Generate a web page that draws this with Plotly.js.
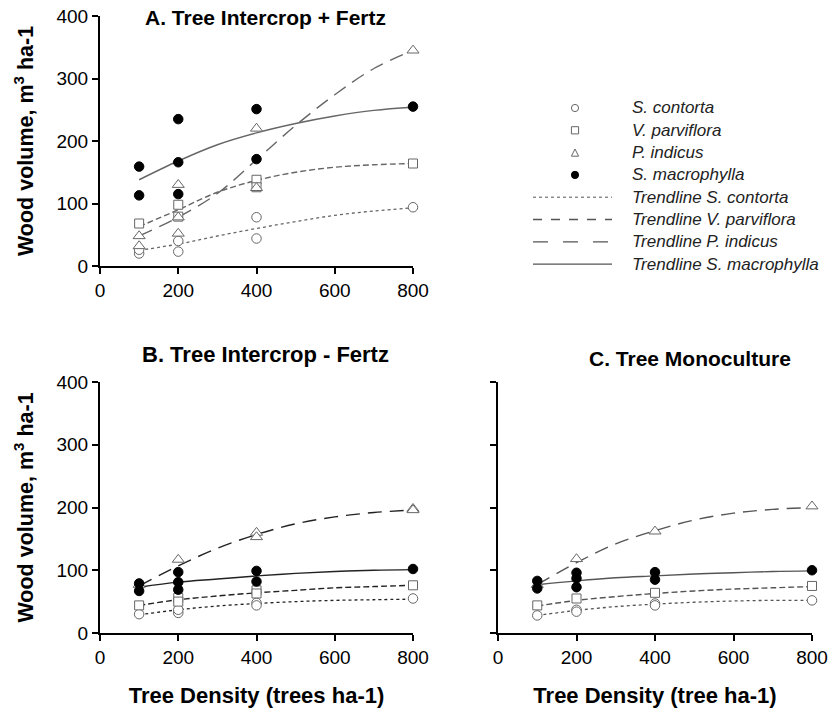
<!DOCTYPE html>
<html>
<head>
<meta charset="utf-8">
<script src="https://cdn.plot.ly/plotly-3.0.1.min.js"></script>
<style>html,body{margin:0;padding:0;background:#fff}#chart{width:830px;height:715px}</style>
</head>
<body>
<div id="chart"></div>
<script>
// ---- data ----
const speciesNames = ["S. contorta", "V. parviflora", "P. indicus", "S. macrophylla"];
const trendX = [100, 200, 300, 400, 500, 600, 700, 800];

// Panel A: Tree Intercrop + Fertz
const aContortaX = [100, 100, 200, 200, 400, 400, 800];
const aContortaY = [20, 26, 23, 40, 78, 44, 94];
const aParvX = [100, 200, 200, 400, 400, 800];
const aParvY = [68, 98, 79, 138, 126, 164];
const aIndicusX = [100, 100, 200, 200, 200, 400, 400, 800];
const aIndicusY = [48, 32, 130, 78, 52, 220, 125, 345];
const aMacroX = [100, 100, 200, 200, 200, 400, 400, 800];
const aMacroY = [159, 113, 235, 166, 115, 251, 171, 255];
const aTrendContorta = [25, 35, 48, 60, 71, 81, 88, 93];
const aTrendParv = [63, 90, 118, 137, 150, 158, 162, 164];
const aTrendIndicus = [48, 78, 116, 170, 225, 274, 316, 345];
const aTrendMacro = [138, 168, 194, 213, 228, 240, 249, 254];

// Panel B: Tree Intercrop - Fertz
const bContortaX = [100, 200, 200, 400, 400, 800];
const bContortaY = [30, 32, 37, 48, 44, 55];
const bParvX = [100, 200, 200, 400, 400, 800];
const bParvY = [44, 56, 50, 68, 63, 76];
const bIndicusX = [100, 200, 400, 400, 800, 800];
const bIndicusY = [77, 117, 160, 153, 198, 196];
const bMacroX = [100, 100, 200, 200, 200, 400, 400, 800];
const bMacroY = [79, 67, 97, 81, 69, 99, 82, 102];
const bTrendContorta = [29, 37, 43, 47, 50, 52, 53, 54];
const bTrendParv = [44, 53, 59, 64, 68, 72, 74, 76];
const bTrendIndicus = [75, 107, 135, 157, 174, 185, 192, 196];
const bTrendMacro = [73, 81, 86, 91, 95, 98, 100, 101];

// Panel C: Tree Monoculture
const cContortaX = [100, 200, 200, 400, 400, 800];
const cContortaY = [28, 37, 34, 47, 44, 52];
const cParvX = [100, 200, 400, 800];
const cParvY = [44, 55, 64, 75];
const cIndicusX = [100, 200, 400, 800];
const cIndicusY = [77, 118, 162, 202];
const cMacroX = [100, 100, 200, 200, 200, 400, 400, 800];
const cMacroY = [83, 71, 96, 87, 73, 97, 85, 100];
const cTrendContorta = [28, 36, 42, 46, 49, 51, 52, 52];
const cTrendParv = [43, 52, 58, 63, 67, 70, 72, 74];
const cTrendIndicus = [77, 112, 142, 163, 180, 191, 197, 200];
const cTrendMacro = [77, 83, 88, 91, 94, 96, 98, 99];

const xTicks = [0, 200, 400, 600, 800];
const yTicks = [0, 100, 200, 300, 400];

// ---- styles ----
const FONT = "Liberation Sans, Arial, sans-serif";
const markerStyles = [
  {symbol: "circle", color: "#fff", size: 9.5, line: {color: "#666", width: 1}},
  {symbol: "square", color: "#fff", size: 9, line: {color: "#666", width: 1}},
  {symbol: "triangle-up", color: "#fff", size: 10.5, line: {color: "#666", width: 1}},
  {symbol: "circle", color: "#000", size: 9.5, line: {color: "#000", width: 1}}
];
const dashes = ["dot", "6px,3px", "14px,8px", "solid"];
const legendDashes = ["dot", "dash", "longdash", "solid"];

const traces = [];
function addPanel(xa, ya, pts, trends, lineColor) {
  trends.forEach((ty, i) => {
    traces.push({
      x: trendX, y: ty, xaxis: xa, yaxis: ya, type: "scatter", mode: "lines",
      line: {color: lineColor, width: i === 0 ? 1.3 : 1.4, dash: dashes[i], shape: "spline"},
      name: "Trendline " + speciesNames[i], showlegend: false, cliponaxis: false, hoverinfo: "skip"
    });
  });
  pts.forEach((p, i) => {
    traces.push({
      x: p[0], y: p[1], xaxis: xa, yaxis: ya, type: "scatter", mode: "markers",
      marker: markerStyles[i], name: speciesNames[i], showlegend: false, cliponaxis: false
    });
  });
}

addPanel("x", "y",
  [[aContortaX, aContortaY], [aParvX, aParvY], [aIndicusX, aIndicusY], [aMacroX, aMacroY]],
  [aTrendContorta, aTrendParv, aTrendIndicus, aTrendMacro], "#666");
addPanel("x2", "y2",
  [[bContortaX, bContortaY], [bParvX, bParvY], [bIndicusX, bIndicusY], [bMacroX, bMacroY]],
  [bTrendContorta, bTrendParv, bTrendIndicus, bTrendMacro], "#222");
addPanel("x3", "y3",
  [[cContortaX, cContortaY], [cParvX, cParvY], [cIndicusX, cIndicusY], [cMacroX, cMacroY]],
  [cTrendContorta, cTrendParv, cTrendIndicus, cTrendMacro], "#555");

const W = 830, H = 715;
function fx(px) { return px / W; }
function fy(py) { return 1 - py / H; }

function xAxis(domain, anchor, title) {
  const ax = {
    domain: domain, anchor: anchor, range: [0, 800], tickvals: xTicks, ticktext: xTicks.map(String),
    showgrid: false, zeroline: false, showline: true, linecolor: "#000", linewidth: 2,
    ticks: "outside", ticklen: 6, tickwidth: 2, tickcolor: "#000",
    tickfont: {family: FONT, size: 19, color: "#000"}, fixedrange: true
  };
  if (title) ax.title = {text: title, font: {family: FONT, size: 22, color: "#000", weight: "bold"}, standoff: 21};
  return ax;
}
function yAxis(domain, anchor, title, showLabels) {
  const ax = {
    domain: domain, anchor: anchor, range: [0, 400], tickvals: yTicks, ticktext: yTicks.map(String),
    showticklabels: showLabels,
    showgrid: false, zeroline: false, showline: true, linecolor: "#000", linewidth: 2,
    ticks: "outside", ticklen: 6, tickwidth: 2, tickcolor: "#000",
    tickfont: {family: FONT, size: 19, color: "#000"}, fixedrange: true
  };
  if (title) ax.title = {text: title, font: {family: FONT, size: 21.5, color: "#000", weight: "bold"}, standoff: 17};
  return ax;
}

// ---- hand-placed legend (right of panel A) ----
const legendTop = 108, legendStep = 22.3;
const legendMarkerX = 575, legendLineX0 = 533, legendLineX1 = 612, legendTextX = 630;
const shapes = [];
const annotations = [];
const r = 3.6;
function rowY(i) { return legendTop + i * legendStep; }
[0, 1, 2, 3].forEach(i => {
  const cy = rowY(i), cx = legendMarkerX;
  const base = {xref: "paper", yref: "paper", line: {color: i === 3 ? "#000" : "#666", width: 1},
                fillcolor: i === 3 ? "#000" : "#fff"};
  if (i === 0 || i === 3) {
    shapes.push(Object.assign({type: "circle", x0: fx(cx - r), x1: fx(cx + r), y0: fy(cy + r), y1: fy(cy - r)}, base));
  } else if (i === 1) {
    shapes.push(Object.assign({type: "rect", x0: fx(cx - r), x1: fx(cx + r), y0: fy(cy + r), y1: fy(cy - r)}, base));
  } else {
    const p = `M ${fx(cx - r)} ${fy(cy + r)} L ${fx(cx + r)} ${fy(cy + r)} L ${fx(cx)} ${fy(cy - r)} Z`;
    shapes.push(Object.assign({type: "path", path: p}, base));
  }
  annotations.push({text: "<i>" + speciesNames[i] + "</i>", x: fx(legendTextX), y: fy(cy), xref: "paper", yref: "paper",
    xanchor: "left", yanchor: "middle", showarrow: false, font: {family: FONT, size: 17, color: "#222"}});
});
[0, 1, 2, 3].forEach(i => {
  const cy = rowY(4 + i);
  shapes.push({type: "line", xref: "paper", yref: "paper", x0: fx(legendLineX0), x1: fx(legendLineX1),
    y0: fy(cy), y1: fy(cy), line: {color: "#555", width: i === 0 ? 1 : 1.3, dash: legendDashes[i]}});
  annotations.push({text: "<i>Trendline " + speciesNames[i] + "</i>", x: fx(legendTextX), y: fy(cy), xref: "paper", yref: "paper",
    xanchor: "left", yanchor: "middle", showarrow: false, font: {family: FONT, size: 17, color: "#222"}});
});

annotations.push(
  {text: "<b>A. Tree Intercrop + Fertz</b>", x: fx(265), y: fy(17), xref: "paper", yref: "paper",
   xanchor: "center", yanchor: "middle", showarrow: false, font: {family: FONT, size: 21, color: "#000"}},
  {text: "<b>B. Tree Intercrop - Fertz</b>", x: fx(265), y: fy(354), xref: "paper", yref: "paper",
   xanchor: "center", yanchor: "middle", showarrow: false, font: {family: FONT, size: 22, color: "#000"}},
  {text: "<b>C. Tree Monoculture</b>", x: fx(690), y: fy(358), xref: "paper", yref: "paper",
   xanchor: "center", yanchor: "middle", showarrow: false, font: {family: FONT, size: 21, color: "#000"}}
);

const yTitle = "Wood volume, m<sup>3</sup> ha-1";
const layout = {
  width: W, height: H,
  margin: {l: 0, r: 0, t: 0, b: 0},
  paper_bgcolor: "#fff", plot_bgcolor: "#fff",
  font: {family: FONT, color: "#000"},
  showlegend: false,
  xaxis: xAxis([fx(100), fx(413)], "y", null),
  yaxis: yAxis([fy(266), fy(16)], "x", yTitle, true),
  xaxis2: xAxis([fx(100), fx(413)], "y2", "Tree Density (trees ha-1)"),
  yaxis2: yAxis([fy(633), fy(382)], "x2", yTitle, true),
  xaxis3: xAxis([fx(498), fx(812)], "y3", "Tree Density (tree ha-1)"),
  yaxis3: yAxis([fy(633), fy(382)], "x3", null, false),
  shapes: shapes,
  annotations: annotations
};

Plotly.newPlot("chart", traces, layout, {displayModeBar: false, staticPlot: true});
</script>
</body>
</html>
